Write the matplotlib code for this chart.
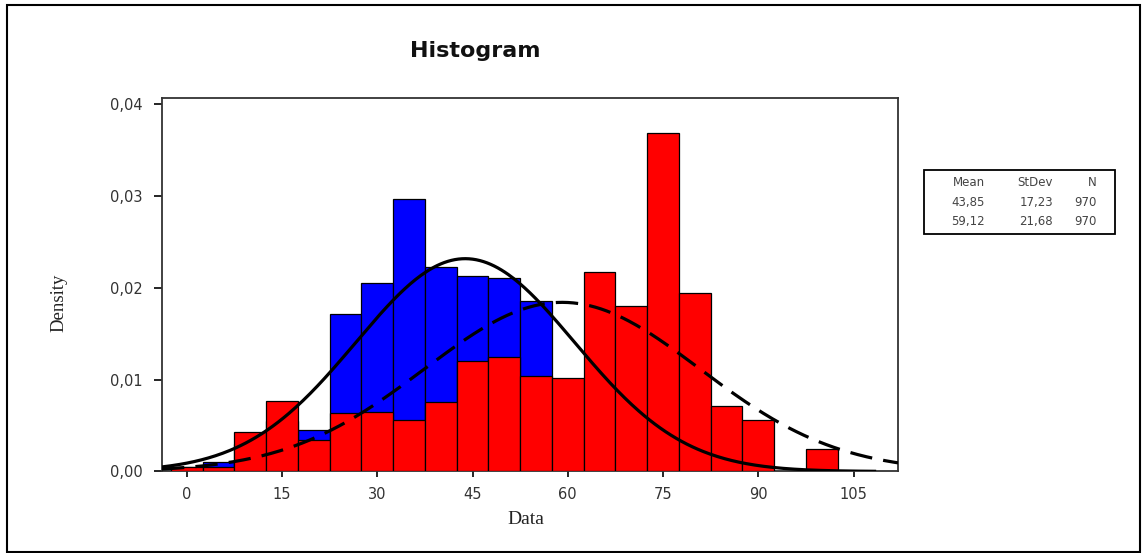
import numpy as np
import matplotlib
matplotlib.use("Agg")
import matplotlib.pyplot as plt
from matplotlib.patches import Rectangle

# bin centres (width 5) and densities
centers = [0, 5, 10, 15, 20, 25, 30, 35, 40, 45, 50, 55, 60, 65, 70, 75, 80, 85, 90, 95, 100, 105]
blue = [0.0005, 0.0010, 0.0030, 0.0055, 0.0045, 0.0171, 0.0205, 0.0296, 0.0223, 0.0213, 0.0210,
        0.0185, 0.0090, 0.0060, 0.0040, 0.0020, 0.0010, 0.0005, 0.0, 0.0, 0.0, 0.0]
red = [0.0005, 0.0005, 0.0043, 0.0077, 0.0034, 0.0064, 0.0065, 0.0056, 0.0076, 0.0120, 0.0125,
       0.0104, 0.0102, 0.0217, 0.0180, 0.0368, 0.0194, 0.0071, 0.0056, 0.0, 0.0025, 0.0]

means = [43.85, 59.12]
stdevs = [17.23, 21.68]
counts = [970, 970]

xticks = [0, 15, 30, 45, 60, 75, 90, 105]
yticks = [0.0, 0.01, 0.02, 0.03, 0.04]
ytick_labels = ["0,00", "0,01", "0,02", "0,03", "0,04"]

fig = plt.figure(figsize=(11.43, 5.53), dpi=100)
ax = fig.add_axes([0.1417, 0.1474, 0.644, 0.6748])

c = np.array(centers, dtype=float)
b = np.array(blue)
r = np.array(red)
ax.bar(c[b > 0], b[b > 0], width=5, color="#0000ff", edgecolor="black", linewidth=0.9, zorder=2)
ax.bar(c[r > 0], r[r > 0], width=5, color="#ff0000", edgecolor="black", linewidth=0.9, zorder=3)

# fitted normal curves
def npdf(x, m, s):
    return np.exp(-0.5 * ((x - m) / s) ** 2) / (s * np.sqrt(2 * np.pi))

x1 = np.linspace(-3.9, 108.3, 400)
ax.plot(x1, npdf(x1, means[0], stdevs[0]), color="black", lw=2.3, zorder=4)
x2 = np.linspace(-3.9, 112, 400)
ax.plot(x2, npdf(x2, means[1], stdevs[1]), color="black", lw=2.3, dashes=(7, 3.5), zorder=4)

ax.set_xlim(-3.9, 112)
ax.set_ylim(0, 0.0406)
ax.set_xticks(xticks)
ax.set_xticklabels([str(t) for t in xticks])
ax.set_yticks(yticks)
ax.set_yticklabels(ytick_labels)
ax.tick_params(axis="x", direction="out", length=4, width=1.2, pad=7, labelsize=10.5, labelcolor="#333333")
ax.tick_params(axis="y", direction="out", length=6, width=1.2, pad=8, labelsize=10.5, labelcolor="#333333")
for s in ax.spines.values():
    s.set_linewidth(1.3)
    s.set_color("#333333")

fig.text(0.4156, 0.9078, "Histogram", ha="center", va="center", fontsize=16, fontweight="bold",
         color="#111111")
fig.text(0.460, 0.0597, "Data", ha="center", va="center", fontsize=14, family="Liberation Serif",
         color="#222222")
fig.text(0.0516, 0.452, "Density", ha="center", va="center", rotation=90, fontsize=13.5,
         family="Liberation Serif", color="#222222")

# stats box
fig.patches.append(Rectangle((0.8084, 0.5769), 0.1671, 0.1157, transform=fig.transFigure,
                             fill=False, edgecolor="black", linewidth=1.3))
cols = [0.8618, 0.9213, 0.9598]
rows = [0.6696, 0.6347, 0.5991]
header = ["Mean", "StDev", "N"]
for x, h in zip(cols, header):
    fig.text(x, rows[0], h, ha="right", va="center", fontsize=8.5, color="#444444")
for i in range(2):
    vals = [f"{means[i]:.2f}".replace(".", ","), f"{stdevs[i]:.2f}".replace(".", ","), str(counts[i])]
    for x, v in zip(cols, vals):
        fig.text(x, rows[i + 1], v, ha="right", va="center", fontsize=8.5, color="#444444")

# outer frame
fig.patches.append(Rectangle((0.0061, 0.0018), 0.9913, 0.9892, transform=fig.transFigure,
                             fill=False, edgecolor="black", linewidth=1.5))

fig.savefig("out.png", dpi=100)
